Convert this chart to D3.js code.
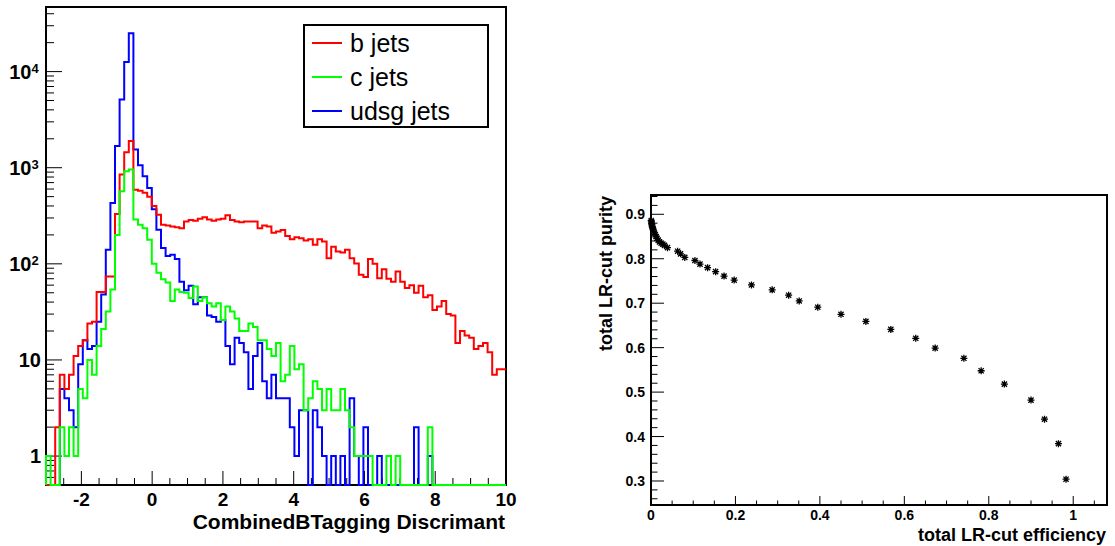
<!DOCTYPE html>
<html><head><meta charset="utf-8">
<script src="https://cdn.jsdelivr.net/npm/d3@7"></script>
<style>
html,body{margin:0;padding:0;background:#fff;}
svg{display:block;font-family:"Liberation Sans",Arial,Helvetica,sans-serif;}
</style></head><body>
<svg id="c" width="1115" height="546"></svg>
<script>
// ---- Histogram: CombinedBTagging discriminant, 100 bins on [-3, 10] ----
const histRange = [-3, 10];
const bJets = [0,0,2,7,5,7,11,14,16,24,
  25,51,51,74,74,330,850,1450,1900,590,
  575,550,500,400,325,255,250,245,240,235,
  275,285,280,295,305,290,280,290,295,320,
  285,275,270,275,275,275,235,250,245,210,
  217,225,195,180,189,185,175,180,158,180,
  171,114,151,134,131,140,114,101,77,73,
  112,100,71,88,70,65,83,65,56,60,
  50,59,45,47,33,36,41,30,29,15,
  20,18,17,13,14,15,12,7,8,8];
const cJets = [1,0,0,2,1,2,1,5,4,10,
  7,14,21,32,54,200,570,920,960,290,
  255,235,178,100,81,69,64,41,54,51,
  50,44,58,41,45,39,36,39,26,36,
  32,27,20,20,24,22,16,16,13,11,
  15,6,7,14,8,9,3,4,6,5,
  3,5,3,3,5,3,2,1,1,1,
  1,0,0,0,1,0,1,0,0,0,
  0,0,0,2,0,0,0,0,0,0,
  0,0,0,0,0,0,0,0,0,0];
const udsgJets = [0,0,0,5,4,3,2,9,16,13,
  14,25,48,140,430,1680,5140,12600,25100,1550,
  1060,815,615,370,226,146,121,124,112,65,
  53,59,38,45,45,29,28,25,26,14,
  9,17,15,12,5,11,15,6,4,7,
  4,4,4,2,1,3,3,0,3,2,
  1,0,1,0,1,0,4,1,0,2,
  0,0,1,0,0,0,0,0,0,0,
  2,0,0,1,0,0,0,0,0,0,
  0,0,0,0,0,0,0,0,0,0];
const legendNames = ["b jets", "c jets", "udsg jets"];
const legendColors = ["#ff0000", "#00ff00", "#0000ff"];
const histXTicks = [-2, 0, 2, 4, 6, 8, 10];
const histYTicks = [1, 10, 100, 1000, 10000];
const histXTitle = "CombinedBTagging Discrimant";

// ---- Purity vs efficiency of the likelihood-ratio cut ----
const efficiency = [0.0005,0.001,0.0015,0.002,0.003,0.004,0.005,0.006,0.008,0.010,
  0.012,0.014,0.017,0.020,0.024,0.028,0.032,0.039,0.063,0.070,
  0.080,0.104,0.116,0.134,0.153,0.173,0.197,0.238,0.287,0.326,
  0.351,0.395,0.450,0.509,0.568,0.627,0.673,0.741,0.782,0.837,
  0.900,0.932,0.965,0.983];
const purity = [0.886,0.883,0.879,0.876,0.872,0.869,0.866,0.862,0.858,0.854,
  0.850,0.846,0.842,0.838,0.835,0.833,0.830,0.825,0.817,0.811,
  0.803,0.796,0.788,0.780,0.771,0.761,0.752,0.741,0.730,0.718,
  0.705,0.691,0.675,0.659,0.641,0.621,0.599,0.576,0.548,0.518,
  0.482,0.439,0.384,0.304];
const effTicks = [0, 0.2, 0.4, 0.6, 0.8, 1];
const purTicks = [0.3, 0.4, 0.5, 0.6, 0.7, 0.8, 0.9];
const effTitle = "total LR-cut efficiency";
const purTitle = "total LR-cut purity";

const svg = d3.select("#c");
svg.append("rect").attr("width", 1115).attr("height", 546).attr("fill", "#fff");

// ================= left pad: log histogram =================
const L = {l: 46, r: 506, t: 7, b: 485};
const x = d3.scaleLinear().domain(histRange).range([L.l, L.r]);
const y = d3.scaleLog().domain([0.5, 47000]).range([L.b, L.t]);
const gL = svg.append("g");

// y ticks (major decades + minor 2..9)
const yMinor = [];
[0.1, 1, 10, 100, 1000, 10000].forEach(d => {
  for (let k = 2; k <= 9; k++) {
    const v = k * d;
    if (v > 0.5 && v < 47000) yMinor.push(v);
  }
});
gL.selectAll(".ymin").data(yMinor).join("line")
  .attr("x1", L.l).attr("x2", L.l + 8)
  .attr("y1", d => y(d)).attr("y2", d => y(d))
  .attr("stroke", "#000").attr("stroke-width", 1);
gL.selectAll(".ymaj").data(histYTicks).join("line")
  .attr("x1", L.l).attr("x2", L.l + 16)
  .attr("y1", d => y(d)).attr("y2", d => y(d))
  .attr("stroke", "#000").attr("stroke-width", 1);

histYTicks.forEach(v => {
  const e = Math.round(Math.log10(v));
  if (e <= 1) {
    gL.append("text").attr("x", 41).attr("y", y(v) + 7)
      .attr("text-anchor", "end").attr("font-size", 20).attr("font-weight", "bold")
      .text(String(v));
  } else {
    gL.append("text").attr("x", 31.5).attr("y", y(v) + 7)
      .attr("text-anchor", "end").attr("font-size", 20).attr("font-weight", "bold")
      .text("10");
    gL.append("text").attr("x", 31.5).attr("y", y(v) + 1.5)
      .attr("text-anchor", "start").attr("font-size", 13).attr("font-weight", "bold")
      .text(String(e));
  }
});

// x ticks
const xMinor = d3.range(-2.5, 10, 0.5).filter(v => Math.abs(v % 2) > 1e-6);
gL.selectAll(".xmin").data(xMinor).join("line")
  .attr("x1", d => x(d)).attr("x2", d => x(d))
  .attr("y1", L.b).attr("y2", L.b - 7)
  .attr("stroke", "#000").attr("stroke-width", 1);
gL.selectAll(".xmaj").data(histXTicks).join("line")
  .attr("x1", d => x(d)).attr("x2", d => x(d))
  .attr("y1", L.b).attr("y2", L.b - 14)
  .attr("stroke", "#000").attr("stroke-width", 1);
gL.selectAll(".xlab").data(histXTicks).join("text")
  .attr("x", d => x(d)).attr("y", 505.5)
  .attr("text-anchor", "middle").attr("font-size", 19).attr("font-weight", "bold")
  .text(d => String(d));
gL.append("text").attr("x", 505).attr("y", 529)
  .attr("text-anchor", "end").attr("font-size", 21).attr("font-weight", "bold")
  .text(histXTitle);

// frame
gL.append("rect").attr("x", L.l).attr("y", L.t)
  .attr("width", L.r - L.l).attr("height", L.b - L.t)
  .attr("fill", "none").attr("stroke", "#000").attr("stroke-width", 2);

// step outlines
const nBins = bJets.length;
const binW = (histRange[1] - histRange[0]) / nBins;
function stepPath(vals) {
  const yy = v => y(Math.max(v, 0.5));
  let p = `M${x(histRange[0])},${y(0.5)}`;
  vals.forEach((v, i) => {
    const x0 = x(histRange[0] + i * binW), x1 = x(histRange[0] + (i + 1) * binW);
    p += `L${x0},${yy(v)}L${x1},${yy(v)}`;
  });
  return p;
}
const drawOrder = [[udsgJets, legendColors[2]], [bJets, legendColors[0]], [cJets, legendColors[1]]];
drawOrder.forEach(([vals, col]) => {
  gL.append("path").attr("d", stepPath(vals))
    .attr("fill", "none").attr("stroke", col).attr("stroke-width", 2)
    .attr("stroke-linejoin", "miter");
});

// legend
const leg = gL.append("g");
leg.append("rect").attr("x", 304).attr("y", 25).attr("width", 184).attr("height", 102)
  .attr("fill", "#fff").attr("stroke", "#000").attr("stroke-width", 2);
legendNames.forEach((name, i) => {
  const cy = 43 + i * 34;
  leg.append("line").attr("x1", 312).attr("x2", 342).attr("y1", cy).attr("y2", cy)
    .attr("stroke", legendColors[i]).attr("stroke-width", 2);
  leg.append("text").attr("x", 350).attr("y", cy + 9)
    .attr("font-size", 25).text(name);
});

// ================= right pad: purity vs efficiency =================
const R = {l: 651, r: 1107, t: 195, b: 505};
const xs = d3.scaleLinear().domain([0, 1.08]).range([R.l, R.r]);
const ys = d3.scaleLinear().domain([0.246, 0.9434]).range([R.b, R.t]);
const gR = svg.append("g");

const purMinor = d3.range(13, 48).map(k => k * 0.02).filter(v => Math.abs(Math.round(v * 10) - v * 10) > 1e-6);
gR.selectAll(".pmin").data(purMinor).join("line")
  .attr("x1", R.l).attr("x2", R.l + 6.5)
  .attr("y1", d => ys(d)).attr("y2", d => ys(d))
  .attr("stroke", "#000").attr("stroke-width", 1);
gR.selectAll(".pmaj").data(purTicks).join("line")
  .attr("x1", R.l).attr("x2", R.l + 13)
  .attr("y1", d => ys(d)).attr("y2", d => ys(d))
  .attr("stroke", "#000").attr("stroke-width", 1);
gR.selectAll(".plab").data(purTicks).join("text")
  .attr("x", 645).attr("y", d => ys(d) + 5)
  .attr("text-anchor", "end").attr("font-size", 14).attr("font-weight", "bold")
  .text(d => d3.format(".1f")(d));

const effMinor = d3.range(1, 22).map(k => k * 0.05).filter(v => Math.abs(Math.round(v * 5) - v * 5) > 1e-6);
gR.selectAll(".emin").data(effMinor).join("line")
  .attr("x1", d => xs(d)).attr("x2", d => xs(d))
  .attr("y1", R.b).attr("y2", R.b - 4.5)
  .attr("stroke", "#000").attr("stroke-width", 1);
gR.selectAll(".emaj").data(effTicks).join("line")
  .attr("x1", d => xs(d)).attr("x2", d => xs(d))
  .attr("y1", R.b).attr("y2", R.b - 9)
  .attr("stroke", "#000").attr("stroke-width", 1);
gR.selectAll(".elab").data(effTicks).join("text")
  .attr("x", d => xs(d)).attr("y", 519.5)
  .attr("text-anchor", "middle").attr("font-size", 14).attr("font-weight", "bold")
  .text(d => (d === 0 || d === 1) ? String(d) : d3.format(".1f")(d));

gR.append("text").attr("x", 1106).attr("y", 541)
  .attr("text-anchor", "end").attr("font-size", 18).attr("font-weight", "bold")
  .text(effTitle);
gR.append("text").attr("transform", "translate(612,196) rotate(-90)")
  .attr("text-anchor", "end").attr("font-size", 18).attr("font-weight", "bold")
  .text(purTitle);

gR.append("rect").attr("x", R.l).attr("y", R.t)
  .attr("width", R.r - R.l).attr("height", R.b - R.t)
  .attr("fill", "none").attr("stroke", "#000").attr("stroke-width", 2);

// asterisk markers
const star = "M-3.5,0H3.5M0,-3.5V3.5M-2.6,-2.6L2.6,2.6M-2.6,2.6L2.6,-2.6";
gR.selectAll(".pt").data(efficiency.map((e, i) => [e, purity[i]])).join("path")
  .attr("transform", d => `translate(${xs(d[0])},${ys(d[1])})`)
  .attr("d", star).attr("fill", "none").attr("stroke", "#000").attr("stroke-width", 1.3);
</script>
</body></html>
